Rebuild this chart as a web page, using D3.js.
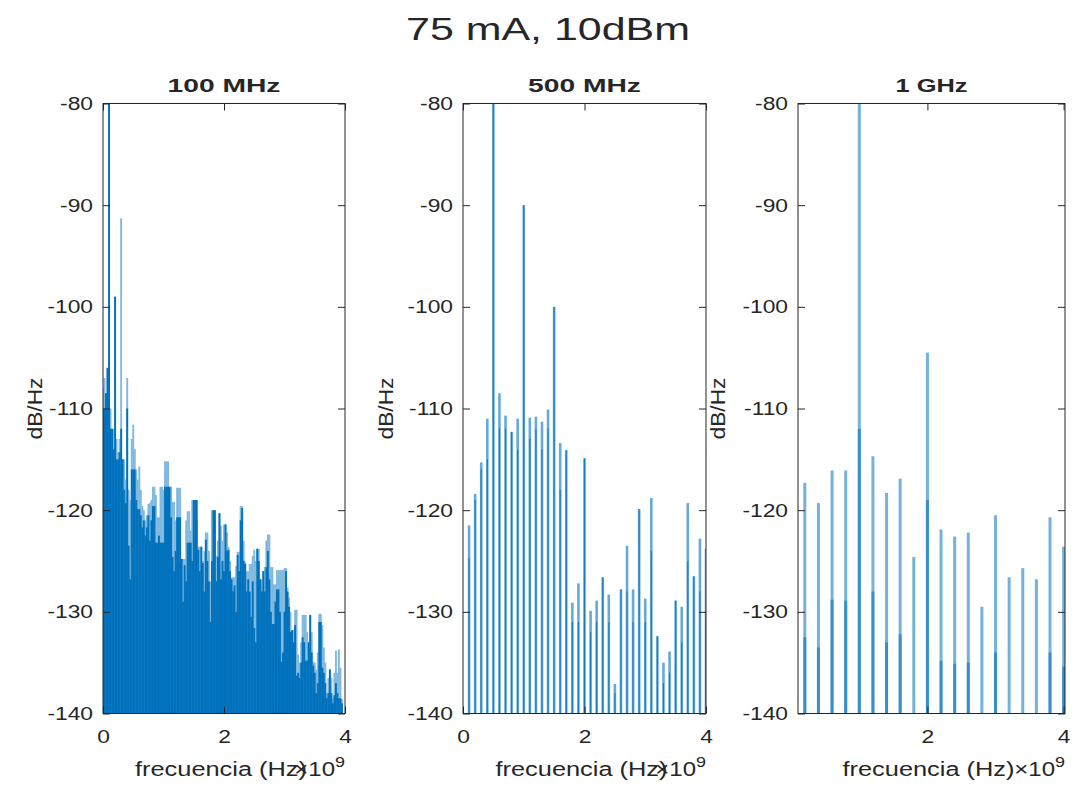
<!DOCTYPE html>
<html>
<head>
<meta charset="utf-8">
<script src="https://cdn.jsdelivr.net/npm/d3@7/dist/d3.min.js"></script>
<style>
body { margin:0; background:#fff; }
text { font-family: "Liberation Sans", Arial, Helvetica, sans-serif; fill:#262626; }
</style>
</head>
<body>
<svg id="chart" width="1078" height="786"></svg>
<script>
// ---- data (frequencies in GHz, levels in dB/Hz) ----
var yTicks = [-140, -130, -120, -110, -100, -90, -80];
var xTicks = [0, 2, 4];

// 100 MHz tone, 25 MHz bins
var p1Freq = [
 0.000,0.025,0.050,0.075,0.100,0.125,0.150,0.175,0.200,0.225,0.250,0.275,0.300,0.325,0.350,0.375,0.400,0.425,0.450,0.475,
 0.500,0.525,0.550,0.575,0.600,0.625,0.650,0.675,0.700,0.725,0.750,0.775,0.800,0.825,0.850,0.875,0.900,0.925,0.950,0.975,
 1.000,1.025,1.050,1.075,1.100,1.125,1.150,1.175,1.200,1.225,1.250,1.275,1.300,1.325,1.350,1.375,1.400,1.425,1.450,1.475,
 1.500,1.525,1.550,1.575,1.600,1.625,1.650,1.675,1.700,1.725,1.750,1.775,1.800,1.825,1.850,1.875,1.900,1.925,1.950,1.975,
 2.000,2.025,2.050,2.075,2.100,2.125,2.150,2.175,2.200,2.225,2.250,2.275,2.300,2.325,2.350,2.375,2.400,2.425,2.450,2.475,
 2.500,2.525,2.550,2.575,2.600,2.625,2.650,2.675,2.700,2.725,2.750,2.775,2.800,2.825,2.850,2.875,2.900,2.925,2.950,2.975,
 3.000,3.025,3.050,3.075,3.100,3.125,3.150,3.175,3.200,3.225,3.250,3.275,3.300,3.325,3.350,3.375,3.400,3.425,3.450,3.475,
 3.500,3.525,3.550,3.575,3.600,3.625,3.650,3.675,3.700,3.725,3.750,3.775,3.800,3.825,3.850,3.875,3.900,3.925,3.950,3.975
];
// upper trace (light tops)
var p1Hi = [
 -108,-107,-108.5,-106,-79,-110,-112,-112,-99,-113,-114.3,-113,-91.3,-115,-115,-117,-107,-118,-119,-113,
 -111.6,-114,-116,-117,-115.7,-118,-119.6,-120,-121,-120.5,-119.4,-119.3,-119,-117.7,-117.7,-118.5,-120.7,-120.7,-117.7,-117.7,
 -118,-115.2,-115.2,-115.2,-117.7,-117.7,-119.2,-119.2,-121,-117.8,-117.8,-117.8,-124.8,-124.8,-124.8,-121,-120.1,-120.1,-122,-119,
 -119,-119,-121,-123.6,-123.6,-123.6,-125,-124,-122.2,-122.2,-124,-127,-120,-120,-121,-124.5,-123,-120.3,-121.5,-123,
 -121.4,-121.4,-122.2,-123.6,-125,-126.6,-126.6,-126.6,-125.5,-124.1,-124.1,-119.6,-119.6,-123,-125.1,-126,-126,-125.3,-125.3,-124.5,
 -123.9,-125,-123.8,-123.8,-126.8,-126.8,-126,-125.6,-123,-122.4,-122.4,-125.6,-125.6,-127.3,-127.3,-125.9,-125.9,-125.9,-125.9,-125.9,
 -125.7,-125.7,-127.6,-128.6,-130,-131.8,-131.8,-129.8,-129.8,-134.2,-135,-133,-130.3,-130.3,-130.3,-132,-134,-130.3,-132,-134.9,
 -135,-135.7,-134,-130.2,-130.2,-131.3,-133.5,-135,-138,-136.5,-135.6,-136.5,-138.5,-136,-133.8,-136,-133.7,-135.5,-138.6,-140
];
// lower trace (solid body)
var p1Lo = [
 -110,-110,-108.5,-106,-79,-112,-112,-114,-99,-115,-115,-114.3,-112,-115,-118,-119.3,-110,-123.5,-126.8,-116,
 -116,-116,-119,-119.9,-119.9,-120.5,-121.7,-121,-122.5,-121.7,-120.5,-123,-121,-119.6,-119.6,-123.2,-123.2,-122.5,-123.2,-123.2,
 -123.2,-117.7,-117.7,-117.7,-117.7,-120.7,-124.6,-126,-124,-120.7,-120.7,-120.7,-124.8,-129,-125.4,-127,-123.2,-123.2,-123.2,-125,
 -119,-119,-119,-123.9,-126,-123.6,-125.2,-128,-122.9,-125,-127,-131,-125,-120,-120,-127,-124.6,-120.3,-126.8,-125,
 -126,-121.4,-124,-123.9,-126,-126.8,-128,-127.4,-130,-124.4,-126,-121,-119.8,-125,-125.3,-128,-126.8,-128,-130.5,-127,
 -131.6,-133,-123.8,-125,-126.8,-128,-126,-128,-125.6,-124,-126.8,-130,-131.2,-131.2,-129,-127.8,-127.8,-130,-134.9,-134,
 -130,-126,-128,-129.5,-132,-131.8,-133,-131.3,-136.3,-136,-136.5,-135,-132.5,-133,-134.8,-134.8,-133,-130.3,-134,-135.3,
 -136,-138,-137,-131,-131,-135.5,-136,-137,-138.5,-138,-135.7,-138,-139,-138.2,-137,-138,-138.5,-138.5,-139,-140
];

// 500 MHz tone, 100 MHz bins
var p2Freq = [0.1,0.2,0.3,0.4,0.5,0.6,0.7,0.8,0.9,1.0,1.1,1.2,1.3,1.4,1.5,1.6,1.7,1.8,1.9,2.0,
              2.1,2.2,2.3,2.4,2.5,2.6,2.7,2.8,2.9,3.0,3.1,3.2,3.3,3.4,3.5,3.6,3.7,3.8,3.9,4.0];
var p2Hi = [-121.5,-118.4,-115.3,-111,-79,-108.5,-110.7,-112.3,-111,-90,-110.9,-110.8,-111.3,-110.1,-100,-113.4,-114.1,-129.1,-127.2,-114.9,
            -129.9,-128.9,-126.6,-128.3,-137.1,-127.8,-123.5,-127.8,-119.9,-128.7,-118.8,-132.4,-135,-133.9,-128.9,-129.5,-119.3,-126.5,-122.8,-123.8];
var p2Lo = [-124.7,-119,-116,-115,-79,-112,-112,-112.3,-114,-90,-113,-112,-114,-112,-100,-118,-114.1,-131,-131,-114.9,
            -132,-131,-126.6,-131,-138,-127.8,-128,-131,-119.9,-131,-124,-132.4,-137,-136,-128.9,-133,-125,-126.5,-128,-130];

// 1 GHz tone, 200 MHz bins
var p3Freq = [0.2,0.4,0.6,0.8,1.0,1.2,1.4,1.6,1.8,2.0,2.2,2.4,2.6,2.8,3.0,3.2,3.4,3.6,3.8,4.0];
var p3Hi = [-117.3,-119.3,-116.1,-116.1,-79,-114.7,-118.3,-116.9,-124.6,-104.5,-121.9,-122.6,-122.2,-129.5,-120.5,-126.6,-125.7,-126.8,-120.7,-123.6];
var p3Lo = [-132.5,-133.5,-128.8,-128.9,-112,-128,-133,-132.2,-140,-119,-134.8,-135.1,-135,-140,-134,-140,-140,-140,-134,-135.4];

// ---- layout ----
var svg = d3.select("#chart");
var yTop = 103.5, yBot = 713.5;
var sx = 1.2; // the figure text is drawn a bit wide

var panels = [
  {title:"100 MHz", titleW:113, freq:p1Freq, hi:p1Hi, lo:p1Lo, x0:103, x1:345, dom:[0,4], ylabX:35,
   hiW:1.9, loW:1.9, hiFill:"#80B8DE", loFill:"#0072BD", hiOp:1, loOp:1},
  {title:"500 MHz", titleW:113, freq:p2Freq, hi:p2Hi, lo:p2Lo, x0:463, x1:706, dom:[0,4], ylabX:386,
   hiW:2.6, loW:1.1, hiFill:"#0072BD", loFill:"#0072BD", hiOp:0.6, loOp:0.8},
  {title:"1 GHz", titleW:72, freq:p3Freq, hi:p3Hi, lo:p3Lo, x0:798, x1:1065, dom:[0.1,4.02], ylabX:718,
   hiW:3, loW:3, hiFill:"#0072BD", loFill:"#0072BD", hiOp:0.55, loOp:0.55}
];

var yScale = d3.scaleLinear().domain([-140, -80]).range([yBot, yTop]);

svg.append("text")
  .attr("x", 548).attr("y", 40)
  .attr("text-anchor", "middle")
  .attr("font-size", 32)
  .attr("textLength", 284).attr("lengthAdjust", "spacingAndGlyphs")
  .attr("fill", "#000")
  .text("75 mA, 10dBm");

panels.forEach(function(p, k) {
  var xScale = d3.scaleLinear().domain(p.dom).range([p.x0, p.x1]);
  var g = svg.append("g");

  g.append("clipPath").attr("id", "clip" + k)
    .append("rect")
      .attr("x", p.x0).attr("y", yTop)
      .attr("width", p.x1 - p.x0).attr("height", yBot - yTop);

  var bars = g.append("g").attr("clip-path", "url(#clip" + k + ")");
  var rows = p.freq.map(function(f, i) { return {f:f, hi:p.hi[i], lo:p.lo[i]}; });

  bars.selectAll(".hi").data(rows).enter().append("rect")
    .attr("class", "hi")
    .attr("x", function(d) { return xScale(d.f) - p.hiW / 2; })
    .attr("width", p.hiW)
    .attr("y", function(d) { return yScale(d.hi); })
    .attr("height", function(d) { return yBot - yScale(d.hi); })
    .attr("fill", p.hiFill).attr("fill-opacity", p.hiOp);

  bars.selectAll(".lo").data(rows).enter().append("rect")
    .attr("class", "lo")
    .attr("x", function(d) { return xScale(d.f) - p.loW / 2; })
    .attr("width", p.loW)
    .attr("y", function(d) { return yScale(d.lo); })
    .attr("height", function(d) { return yBot - yScale(d.lo); })
    .attr("fill", p.loFill).attr("fill-opacity", p.loOp);

  var ticksIn = xTicks.filter(function(t) { return t >= p.dom[0] && t <= p.dom[1]; });
  var plain = function(d) { return String(d); }; // keep the hyphen minus

  // axes, ticks pointing inwards like matlab
  var left = g.append("g").attr("transform", "translate(" + p.x0 + ",0)")
    .call(d3.axisLeft(yScale).tickValues(yTicks).tickFormat(plain).tickSizeInner(-7).tickSizeOuter(0).tickPadding(10));
  var right = g.append("g").attr("transform", "translate(" + p.x1 + ",0)")
    .call(d3.axisRight(yScale).tickValues(yTicks).tickSizeInner(-7).tickSizeOuter(0).tickFormat(""));
  var bot = g.append("g").attr("transform", "translate(0," + yBot + ")")
    .call(d3.axisBottom(xScale).tickValues(ticksIn).tickFormat(plain).tickSizeInner(-7).tickSizeOuter(0).tickPadding(16));
  var tp = g.append("g").attr("transform", "translate(0," + yTop + ")")
    .call(d3.axisTop(xScale).tickValues(ticksIn).tickSizeInner(-7).tickSizeOuter(0).tickFormat(""));

  [left, right, bot, tp].forEach(function(a) {
    a.select(".domain").remove();
    a.selectAll("line").attr("stroke", "#262626");
    a.selectAll("text").attr("font-size", 19).attr("fill", "#262626")
      .attr("font-family", "Liberation Sans, Arial, sans-serif");
  });
  left.selectAll("text").attr("x", -10 / sx).attr("transform", "scale(" + sx + ",1)");
  bot.selectAll("text").attr("transform", "scale(" + sx + ",1)");

  g.append("rect")
    .attr("x", p.x0).attr("y", yTop)
    .attr("width", p.x1 - p.x0).attr("height", yBot - yTop)
    .attr("fill", "none").attr("stroke", "#262626").attr("stroke-width", 1);

  var cx = (p.x0 + p.x1) / 2;
  g.append("text")
    .attr("x", cx).attr("y", 92)
    .attr("text-anchor", "middle")
    .attr("font-size", 18).attr("font-weight", "bold").attr("fill", "#000")
    .attr("textLength", p.titleW).attr("lengthAdjust", "spacingAndGlyphs")
    .text(p.title);

  g.append("text")
    .attr("transform", "translate(" + p.ylabX + "," + ((yTop + yBot) / 2) + ")rotate(-90)")
    .attr("text-anchor", "middle")
    .attr("dy", "0.35em")
    .attr("font-size", 21)
    .attr("textLength", 62).attr("lengthAdjust", "spacingAndGlyphs")
    .text("dB/Hz");

  g.append("text")
    .attr("x", cx - 3).attr("y", 776)
    .attr("text-anchor", "middle")
    .attr("font-size", 20)
    .attr("textLength", 172).attr("lengthAdjust", "spacingAndGlyphs")
    .text("frecuencia (Hz)");

  var ex = g.append("text")
    .attr("transform", "translate(" + p.x1 + ",776)scale(" + sx + ",1)")
    .attr("text-anchor", "end")
    .attr("font-size", 20);
  ex.append("tspan").text("\u00d710");
  ex.append("tspan").attr("dy", -9).attr("font-size", 15).text("9");
});
</script>
</body>
</html>
